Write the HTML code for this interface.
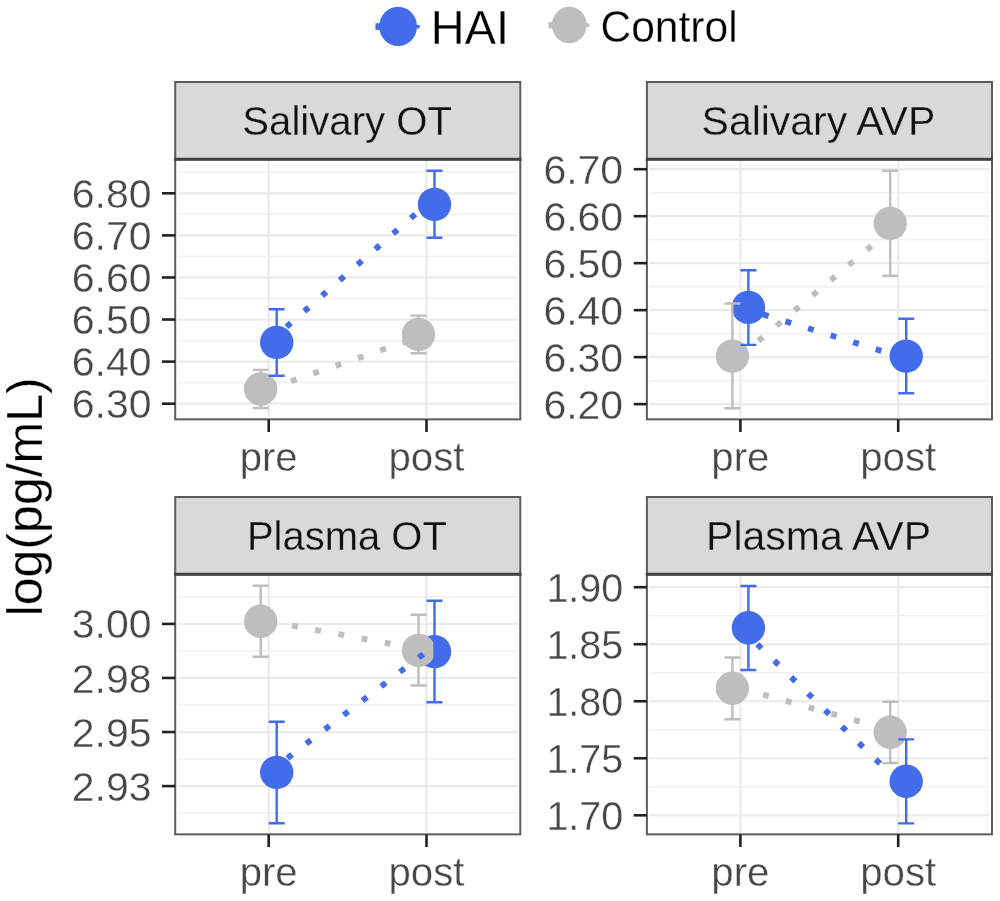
<!DOCTYPE html><html><head><meta charset="utf-8"><style>html,body{margin:0;padding:0;background:#fff;width:1000px;height:901px;overflow:hidden}svg{display:block;will-change:transform}text{font-family:"Liberation Sans",sans-serif}</style></head><body>
<svg width="1000" height="901" viewBox="0 0 1000 901">
<rect width="1000" height="901" fill="#fff"/>
<rect x="175.2" y="159.2" width="345.09999999999997" height="260.15000000000003" fill="#fff"/>
<line x1="177.7" x2="517.8" y1="172.26" y2="172.26" stroke="#F1F1F1" stroke-width="1.6"/>
<line x1="177.7" x2="517.8" y1="214.34" y2="214.34" stroke="#F1F1F1" stroke-width="1.6"/>
<line x1="177.7" x2="517.8" y1="256.42" y2="256.42" stroke="#F1F1F1" stroke-width="1.6"/>
<line x1="177.7" x2="517.8" y1="298.50" y2="298.50" stroke="#F1F1F1" stroke-width="1.6"/>
<line x1="177.7" x2="517.8" y1="340.58" y2="340.58" stroke="#F1F1F1" stroke-width="1.6"/>
<line x1="177.7" x2="517.8" y1="382.66" y2="382.66" stroke="#F1F1F1" stroke-width="1.6"/>
<line x1="177.7" x2="517.8" y1="193.30" y2="193.30" stroke="#EBEBEB" stroke-width="2.2"/>
<line x1="177.7" x2="517.8" y1="235.38" y2="235.38" stroke="#EBEBEB" stroke-width="2.2"/>
<line x1="177.7" x2="517.8" y1="277.46" y2="277.46" stroke="#EBEBEB" stroke-width="2.2"/>
<line x1="177.7" x2="517.8" y1="319.54" y2="319.54" stroke="#EBEBEB" stroke-width="2.2"/>
<line x1="177.7" x2="517.8" y1="361.62" y2="361.62" stroke="#EBEBEB" stroke-width="2.2"/>
<line x1="177.7" x2="517.8" y1="403.70" y2="403.70" stroke="#EBEBEB" stroke-width="2.2"/>
<line x1="268.7" x2="268.7" y1="161.2" y2="416.85" stroke="#EBEBEB" stroke-width="2.2"/>
<line x1="426.5" x2="426.5" y1="161.2" y2="416.85" stroke="#EBEBEB" stroke-width="2.2"/>
<circle cx="276.7" cy="342.4" r="16.7" fill="#436CEA"/>
<circle cx="434.5" cy="204.4" r="16.7" fill="#436CEA"/>
<circle cx="260.7" cy="389.0" r="16.7" fill="#BEBEBE"/>
<circle cx="418.5" cy="334.4" r="16.7" fill="#BEBEBE"/>
<path d="M268.7 309.2H284.7M276.7 309.2V375.8M268.7 375.8H284.7" stroke="#436CEA" stroke-width="2.4" fill="none"/>
<path d="M426.5 170.8H442.5M434.5 170.8V237.8M426.5 237.8H442.5" stroke="#436CEA" stroke-width="2.4" fill="none"/>
<path d="M252.7 369.9H268.7M260.7 369.9V408.0M252.7 408.0H268.7" stroke="#BEBEBE" stroke-width="2.4" fill="none"/>
<path d="M410.5 315.6H426.5M418.5 315.6V353.3M410.5 353.3H426.5" stroke="#BEBEBE" stroke-width="2.4" fill="none"/>
<line x1="268.7" y1="389.0" x2="426.5" y2="334.4" stroke="#BEBEBE" stroke-width="5.9" stroke-dasharray="5.9 17.7"/>
<line x1="268.7" y1="342.4" x2="426.5" y2="204.4" stroke="#436CEA" stroke-width="5.9" stroke-dasharray="5.9 17.7"/>
<rect x="175.2" y="159.2" width="345.09999999999997" height="260.15000000000003" fill="none" stroke="#5C5C5C" stroke-width="2"/>
<rect x="175.2" y="82.0" width="345.09999999999997" height="77.19999999999999" fill="#D9D9D9" stroke="#5C5C5C" stroke-width="2"/>
<line x1="174.2" x2="521.3" y1="159.2" y2="159.2" stroke="#404040" stroke-width="3"/>
<text x="242.3" y="135.3" font-size="41" fill="#111" stroke="#D9D9D9" stroke-width="0.3" textLength="209.7" lengthAdjust="spacingAndGlyphs">Salivary OT</text>
<line x1="162" x2="175.2" y1="193.3" y2="193.3" stroke="#222222" stroke-width="2.6"/>
<text x="151.5" y="207.8" text-anchor="end" font-size="41" fill="#474747" stroke="#fff" stroke-width="0.35">6.80</text>
<line x1="162" x2="175.2" y1="235.37999999999985" y2="235.37999999999985" stroke="#222222" stroke-width="2.6"/>
<text x="151.5" y="249.9" text-anchor="end" font-size="41" fill="#474747" stroke="#fff" stroke-width="0.35">6.70</text>
<line x1="162" x2="175.2" y1="277.4600000000001" y2="277.4600000000001" stroke="#222222" stroke-width="2.6"/>
<text x="151.5" y="292.0" text-anchor="end" font-size="41" fill="#474747" stroke="#fff" stroke-width="0.35">6.60</text>
<line x1="162" x2="175.2" y1="319.5399999999999" y2="319.5399999999999" stroke="#222222" stroke-width="2.6"/>
<text x="151.5" y="334.0" text-anchor="end" font-size="41" fill="#474747" stroke="#fff" stroke-width="0.35">6.50</text>
<line x1="162" x2="175.2" y1="361.6199999999998" y2="361.6199999999998" stroke="#222222" stroke-width="2.6"/>
<text x="151.5" y="376.1" text-anchor="end" font-size="41" fill="#474747" stroke="#fff" stroke-width="0.35">6.40</text>
<line x1="162" x2="175.2" y1="403.7" y2="403.7" stroke="#222222" stroke-width="2.6"/>
<text x="151.5" y="418.2" text-anchor="end" font-size="41" fill="#474747" stroke="#fff" stroke-width="0.35">6.30</text>
<line x1="268.7" x2="268.7" y1="419.35" y2="432" stroke="#222222" stroke-width="2.6"/>
<text x="268.7" y="471.3" text-anchor="middle" font-size="40.2" fill="#474747" stroke="#fff" stroke-width="0.35">pre</text>
<line x1="426.5" x2="426.5" y1="419.35" y2="432" stroke="#222222" stroke-width="2.6"/>
<text x="426.5" y="471.3" text-anchor="middle" font-size="40.2" fill="#474747" stroke="#fff" stroke-width="0.35">post</text>
<rect x="646.9" y="159.2" width="345.1" height="260.15000000000003" fill="#fff"/>
<line x1="649.4" x2="989.5" y1="192.69" y2="192.69" stroke="#F1F1F1" stroke-width="1.6"/>
<line x1="649.4" x2="989.5" y1="239.67" y2="239.67" stroke="#F1F1F1" stroke-width="1.6"/>
<line x1="649.4" x2="989.5" y1="286.65" y2="286.65" stroke="#F1F1F1" stroke-width="1.6"/>
<line x1="649.4" x2="989.5" y1="333.63" y2="333.63" stroke="#F1F1F1" stroke-width="1.6"/>
<line x1="649.4" x2="989.5" y1="380.61" y2="380.61" stroke="#F1F1F1" stroke-width="1.6"/>
<line x1="649.4" x2="989.5" y1="169.20" y2="169.20" stroke="#EBEBEB" stroke-width="2.2"/>
<line x1="649.4" x2="989.5" y1="216.18" y2="216.18" stroke="#EBEBEB" stroke-width="2.2"/>
<line x1="649.4" x2="989.5" y1="263.16" y2="263.16" stroke="#EBEBEB" stroke-width="2.2"/>
<line x1="649.4" x2="989.5" y1="310.14" y2="310.14" stroke="#EBEBEB" stroke-width="2.2"/>
<line x1="649.4" x2="989.5" y1="357.12" y2="357.12" stroke="#EBEBEB" stroke-width="2.2"/>
<line x1="649.4" x2="989.5" y1="404.10" y2="404.10" stroke="#EBEBEB" stroke-width="2.2"/>
<line x1="740.4" x2="740.4" y1="161.2" y2="416.85" stroke="#EBEBEB" stroke-width="2.2"/>
<line x1="898.2" x2="898.2" y1="161.2" y2="416.85" stroke="#EBEBEB" stroke-width="2.2"/>
<circle cx="748.4" cy="307.4" r="16.7" fill="#436CEA"/>
<circle cx="906.2" cy="356.1" r="16.7" fill="#436CEA"/>
<circle cx="732.4" cy="356.1" r="16.7" fill="#BEBEBE"/>
<circle cx="890.2" cy="223.4" r="16.7" fill="#BEBEBE"/>
<path d="M740.4 270.3H756.4M748.4 270.3V344.9M740.4 344.9H756.4" stroke="#436CEA" stroke-width="2.4" fill="none"/>
<path d="M898.2 318.8H914.2M906.2 318.8V393.3M898.2 393.3H914.2" stroke="#436CEA" stroke-width="2.4" fill="none"/>
<path d="M724.4 303.5H740.4M732.4 303.5V408.2M724.4 408.2H740.4" stroke="#BEBEBE" stroke-width="2.4" fill="none"/>
<path d="M882.2 170.8H898.2M890.2 170.8V275.7M882.2 275.7H898.2" stroke="#BEBEBE" stroke-width="2.4" fill="none"/>
<line x1="740.4" y1="356.1" x2="898.2" y2="223.4" stroke="#BEBEBE" stroke-width="5.9" stroke-dasharray="5.9 17.7"/>
<line x1="740.4" y1="307.4" x2="898.2" y2="356.1" stroke="#436CEA" stroke-width="5.9" stroke-dasharray="5.9 17.7"/>
<rect x="646.9" y="159.2" width="345.1" height="260.15000000000003" fill="none" stroke="#5C5C5C" stroke-width="2"/>
<rect x="646.9" y="82.0" width="345.1" height="77.19999999999999" fill="#D9D9D9" stroke="#5C5C5C" stroke-width="2"/>
<line x1="645.9" x2="993.0" y1="159.2" y2="159.2" stroke="#404040" stroke-width="3"/>
<text x="701.6" y="135.3" font-size="41" fill="#111" stroke="#D9D9D9" stroke-width="0.3" textLength="233.6" lengthAdjust="spacingAndGlyphs">Salivary AVP</text>
<line x1="633.7" x2="646.9" y1="169.2" y2="169.2" stroke="#222222" stroke-width="2.6"/>
<text x="623.2" y="183.7" text-anchor="end" font-size="41" fill="#474747" stroke="#fff" stroke-width="0.35">6.70</text>
<line x1="633.7" x2="646.9" y1="216.18000000000023" y2="216.18000000000023" stroke="#222222" stroke-width="2.6"/>
<text x="623.2" y="230.7" text-anchor="end" font-size="41" fill="#474747" stroke="#fff" stroke-width="0.35">6.60</text>
<line x1="633.7" x2="646.9" y1="263.1600000000001" y2="263.1600000000001" stroke="#222222" stroke-width="2.6"/>
<text x="623.2" y="277.7" text-anchor="end" font-size="41" fill="#474747" stroke="#fff" stroke-width="0.35">6.50</text>
<line x1="633.7" x2="646.9" y1="310.13999999999993" y2="310.13999999999993" stroke="#222222" stroke-width="2.6"/>
<text x="623.2" y="324.6" text-anchor="end" font-size="41" fill="#474747" stroke="#fff" stroke-width="0.35">6.40</text>
<line x1="633.7" x2="646.9" y1="357.1200000000002" y2="357.1200000000002" stroke="#222222" stroke-width="2.6"/>
<text x="623.2" y="371.6" text-anchor="end" font-size="41" fill="#474747" stroke="#fff" stroke-width="0.35">6.30</text>
<line x1="633.7" x2="646.9" y1="404.1" y2="404.1" stroke="#222222" stroke-width="2.6"/>
<text x="623.2" y="418.6" text-anchor="end" font-size="41" fill="#474747" stroke="#fff" stroke-width="0.35">6.20</text>
<line x1="740.4" x2="740.4" y1="419.35" y2="432" stroke="#222222" stroke-width="2.6"/>
<text x="740.4" y="471.3" text-anchor="middle" font-size="40.2" fill="#474747" stroke="#fff" stroke-width="0.35">pre</text>
<line x1="898.2" x2="898.2" y1="419.35" y2="432" stroke="#222222" stroke-width="2.6"/>
<text x="898.2" y="471.3" text-anchor="middle" font-size="40.2" fill="#474747" stroke="#fff" stroke-width="0.35">post</text>
<rect x="175.2" y="574.2" width="345.09999999999997" height="260.15" fill="#fff"/>
<line x1="177.7" x2="517.8" y1="596.87" y2="596.87" stroke="#F1F1F1" stroke-width="1.6"/>
<line x1="177.7" x2="517.8" y1="650.93" y2="650.93" stroke="#F1F1F1" stroke-width="1.6"/>
<line x1="177.7" x2="517.8" y1="705.00" y2="705.00" stroke="#F1F1F1" stroke-width="1.6"/>
<line x1="177.7" x2="517.8" y1="759.07" y2="759.07" stroke="#F1F1F1" stroke-width="1.6"/>
<line x1="177.7" x2="517.8" y1="813.13" y2="813.13" stroke="#F1F1F1" stroke-width="1.6"/>
<line x1="177.7" x2="517.8" y1="623.90" y2="623.90" stroke="#EBEBEB" stroke-width="2.2"/>
<line x1="177.7" x2="517.8" y1="677.97" y2="677.97" stroke="#EBEBEB" stroke-width="2.2"/>
<line x1="177.7" x2="517.8" y1="732.03" y2="732.03" stroke="#EBEBEB" stroke-width="2.2"/>
<line x1="177.7" x2="517.8" y1="786.10" y2="786.10" stroke="#EBEBEB" stroke-width="2.2"/>
<line x1="268.7" x2="268.7" y1="576.2" y2="831.85" stroke="#EBEBEB" stroke-width="2.2"/>
<line x1="426.5" x2="426.5" y1="576.2" y2="831.85" stroke="#EBEBEB" stroke-width="2.2"/>
<circle cx="276.7" cy="772.4" r="16.7" fill="#436CEA"/>
<circle cx="434.5" cy="651.6" r="16.7" fill="#436CEA"/>
<circle cx="260.7" cy="621.3" r="16.7" fill="#BEBEBE"/>
<circle cx="418.5" cy="650.4" r="16.7" fill="#BEBEBE"/>
<path d="M268.7 721.7H284.7M276.7 721.7V823.3M268.7 823.3H284.7" stroke="#436CEA" stroke-width="2.4" fill="none"/>
<path d="M426.5 600.8H442.5M434.5 600.8V702.2M426.5 702.2H442.5" stroke="#436CEA" stroke-width="2.4" fill="none"/>
<path d="M252.7 585.8H268.7M260.7 585.8V656.7M252.7 656.7H268.7" stroke="#BEBEBE" stroke-width="2.4" fill="none"/>
<path d="M410.5 614.8H426.5M418.5 614.8V685.5M410.5 685.5H426.5" stroke="#BEBEBE" stroke-width="2.4" fill="none"/>
<line x1="268.7" y1="621.3" x2="426.5" y2="650.4" stroke="#BEBEBE" stroke-width="5.9" stroke-dasharray="5.9 17.7"/>
<line x1="268.7" y1="772.4" x2="426.5" y2="651.6" stroke="#436CEA" stroke-width="5.9" stroke-dasharray="5.9 17.7"/>
<rect x="175.2" y="574.2" width="345.09999999999997" height="260.15" fill="none" stroke="#5C5C5C" stroke-width="2"/>
<rect x="175.2" y="497.0" width="345.09999999999997" height="77.20000000000005" fill="#D9D9D9" stroke="#5C5C5C" stroke-width="2"/>
<line x1="174.2" x2="521.3" y1="574.2" y2="574.2" stroke="#404040" stroke-width="3"/>
<text x="246.9" y="550.3" font-size="41" fill="#111" stroke="#D9D9D9" stroke-width="0.3" textLength="200.0" lengthAdjust="spacingAndGlyphs">Plasma OT</text>
<line x1="162" x2="175.2" y1="623.9" y2="623.9" stroke="#222222" stroke-width="2.6"/>
<text x="151.5" y="638.4" text-anchor="end" font-size="41" fill="#474747" stroke="#fff" stroke-width="0.35">3.00</text>
<line x1="162" x2="175.2" y1="677.9666666666664" y2="677.9666666666664" stroke="#222222" stroke-width="2.6"/>
<text x="151.5" y="692.5" text-anchor="end" font-size="41" fill="#474747" stroke="#fff" stroke-width="0.35">2.98</text>
<line x1="162" x2="175.2" y1="732.0333333333327" y2="732.0333333333327" stroke="#222222" stroke-width="2.6"/>
<text x="151.5" y="746.5" text-anchor="end" font-size="41" fill="#474747" stroke="#fff" stroke-width="0.35">2.95</text>
<line x1="162" x2="175.2" y1="786.1" y2="786.1" stroke="#222222" stroke-width="2.6"/>
<text x="151.5" y="800.6" text-anchor="end" font-size="41" fill="#474747" stroke="#fff" stroke-width="0.35">2.93</text>
<line x1="268.7" x2="268.7" y1="834.35" y2="847.0" stroke="#222222" stroke-width="2.6"/>
<text x="268.7" y="886.3" text-anchor="middle" font-size="40.2" fill="#474747" stroke="#fff" stroke-width="0.35">pre</text>
<line x1="426.5" x2="426.5" y1="834.35" y2="847.0" stroke="#222222" stroke-width="2.6"/>
<text x="426.5" y="886.3" text-anchor="middle" font-size="40.2" fill="#474747" stroke="#fff" stroke-width="0.35">post</text>
<rect x="646.9" y="574.2" width="345.1" height="260.15" fill="#fff"/>
<line x1="649.4" x2="989.5" y1="615.71" y2="615.71" stroke="#F1F1F1" stroke-width="1.6"/>
<line x1="649.4" x2="989.5" y1="672.74" y2="672.74" stroke="#F1F1F1" stroke-width="1.6"/>
<line x1="649.4" x2="989.5" y1="729.76" y2="729.76" stroke="#F1F1F1" stroke-width="1.6"/>
<line x1="649.4" x2="989.5" y1="786.79" y2="786.79" stroke="#F1F1F1" stroke-width="1.6"/>
<line x1="649.4" x2="989.5" y1="587.20" y2="587.20" stroke="#EBEBEB" stroke-width="2.2"/>
<line x1="649.4" x2="989.5" y1="644.22" y2="644.22" stroke="#EBEBEB" stroke-width="2.2"/>
<line x1="649.4" x2="989.5" y1="701.25" y2="701.25" stroke="#EBEBEB" stroke-width="2.2"/>
<line x1="649.4" x2="989.5" y1="758.27" y2="758.27" stroke="#EBEBEB" stroke-width="2.2"/>
<line x1="649.4" x2="989.5" y1="815.30" y2="815.30" stroke="#EBEBEB" stroke-width="2.2"/>
<line x1="740.4" x2="740.4" y1="576.2" y2="831.85" stroke="#EBEBEB" stroke-width="2.2"/>
<line x1="898.2" x2="898.2" y1="576.2" y2="831.85" stroke="#EBEBEB" stroke-width="2.2"/>
<circle cx="748.4" cy="627.8" r="16.7" fill="#436CEA"/>
<circle cx="906.2" cy="781.3" r="16.7" fill="#436CEA"/>
<circle cx="732.4" cy="688.2" r="16.7" fill="#BEBEBE"/>
<circle cx="890.2" cy="732.3" r="16.7" fill="#BEBEBE"/>
<path d="M740.4 586.0H756.4M748.4 586.0V670.0M740.4 670.0H756.4" stroke="#436CEA" stroke-width="2.4" fill="none"/>
<path d="M898.2 739.4H914.2M906.2 739.4V823.4M898.2 823.4H914.2" stroke="#436CEA" stroke-width="2.4" fill="none"/>
<path d="M724.4 657.5H740.4M732.4 657.5V719.2M724.4 719.2H740.4" stroke="#BEBEBE" stroke-width="2.4" fill="none"/>
<path d="M882.2 701.7H898.2M890.2 701.7V763.0M882.2 763.0H898.2" stroke="#BEBEBE" stroke-width="2.4" fill="none"/>
<line x1="740.4" y1="688.2" x2="898.2" y2="732.3" stroke="#BEBEBE" stroke-width="5.9" stroke-dasharray="5.9 17.7"/>
<line x1="740.4" y1="627.8" x2="898.2" y2="781.3" stroke="#436CEA" stroke-width="5.9" stroke-dasharray="5.9 17.7"/>
<rect x="646.9" y="574.2" width="345.1" height="260.15" fill="none" stroke="#5C5C5C" stroke-width="2"/>
<rect x="646.9" y="497.0" width="345.1" height="77.20000000000005" fill="#D9D9D9" stroke="#5C5C5C" stroke-width="2"/>
<line x1="645.9" x2="993.0" y1="574.2" y2="574.2" stroke="#404040" stroke-width="3"/>
<text x="706.1" y="550.3" font-size="41" fill="#111" stroke="#D9D9D9" stroke-width="0.3" textLength="224.9" lengthAdjust="spacingAndGlyphs">Plasma AVP</text>
<line x1="633.7" x2="646.9" y1="587.2" y2="587.2" stroke="#222222" stroke-width="2.6"/>
<text x="623.2" y="601.7" text-anchor="end" font-size="41" fill="#474747" stroke="#fff" stroke-width="0.35" textLength="76.8" lengthAdjust="spacingAndGlyphs">1.90</text>
<line x1="633.7" x2="646.9" y1="644.2249999999998" y2="644.2249999999998" stroke="#222222" stroke-width="2.6"/>
<text x="623.2" y="658.7" text-anchor="end" font-size="41" fill="#474747" stroke="#fff" stroke-width="0.35" textLength="76.8" lengthAdjust="spacingAndGlyphs">1.85</text>
<line x1="633.7" x2="646.9" y1="701.2499999999999" y2="701.2499999999999" stroke="#222222" stroke-width="2.6"/>
<text x="623.2" y="715.7" text-anchor="end" font-size="41" fill="#474747" stroke="#fff" stroke-width="0.35" textLength="76.8" lengthAdjust="spacingAndGlyphs">1.80</text>
<line x1="633.7" x2="646.9" y1="758.2749999999999" y2="758.2749999999999" stroke="#222222" stroke-width="2.6"/>
<text x="623.2" y="772.8" text-anchor="end" font-size="41" fill="#474747" stroke="#fff" stroke-width="0.35" textLength="76.8" lengthAdjust="spacingAndGlyphs">1.75</text>
<line x1="633.7" x2="646.9" y1="815.3" y2="815.3" stroke="#222222" stroke-width="2.6"/>
<text x="623.2" y="829.8" text-anchor="end" font-size="41" fill="#474747" stroke="#fff" stroke-width="0.35" textLength="76.8" lengthAdjust="spacingAndGlyphs">1.70</text>
<line x1="740.4" x2="740.4" y1="834.35" y2="847.0" stroke="#222222" stroke-width="2.6"/>
<text x="740.4" y="886.3" text-anchor="middle" font-size="40.2" fill="#474747" stroke="#fff" stroke-width="0.35">pre</text>
<line x1="898.2" x2="898.2" y1="834.35" y2="847.0" stroke="#222222" stroke-width="2.6"/>
<text x="898.2" y="886.3" text-anchor="middle" font-size="40.2" fill="#474747" stroke="#fff" stroke-width="0.35">post</text>
<text transform="translate(41.9,496.8) rotate(-90)" text-anchor="middle" font-size="50" fill="#000" stroke="#fff" stroke-width="0.3">log(pg/mL)</text>
<rect x="375.5" y="23.2" width="8" height="6.7" fill="#436CEA"/>
<rect x="412" y="25" width="7.7" height="3.4" fill="#436CEA"/>
<ellipse cx="398.1" cy="26.4" rx="18.9" ry="19.7" fill="#436CEA"/>
<text x="430.8" y="43.7" font-size="49" fill="#000" stroke="#fff" stroke-width="0.3" textLength="78.2" lengthAdjust="spacingAndGlyphs">HAI</text>
<rect x="548.5" y="22" width="8" height="6.4" fill="#BEBEBE"/>
<rect x="582" y="23.5" width="7.4" height="3.5" fill="#BEBEBE"/>
<ellipse cx="569.3" cy="25" rx="17.4" ry="18.3" fill="#BEBEBE"/>
<text x="600.5" y="41.5" font-size="44.5" fill="#000" stroke="#fff" stroke-width="0.3" textLength="137.1" lengthAdjust="spacingAndGlyphs">Control</text>
</svg></body></html>
